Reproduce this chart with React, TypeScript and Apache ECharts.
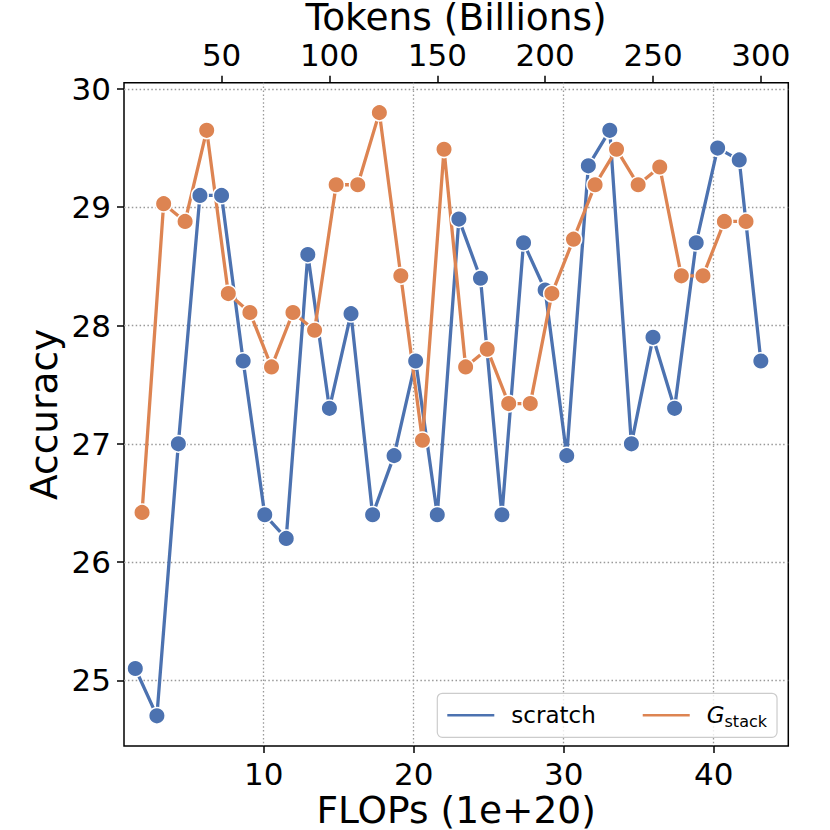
import React, { useEffect, useRef } from "react";
import * as echarts from "echarts";

// FLOPs (1e+20) of each evaluated checkpoint
const scratchFlops = [
  1.44, 2.88, 4.31, 5.75, 7.19, 8.63, 10.07, 11.5, 12.94, 14.38,
  15.82, 17.26, 18.69, 20.13, 21.57, 23.01, 24.45, 25.88, 27.32, 28.76,
  30.2, 31.64, 33.07, 34.51, 35.95, 37.39, 38.83, 40.26, 41.7, 43.14,
];
const scratchAcc = [
  25.1, 24.7, 27.0, 29.1, 29.1, 27.7, 26.4, 26.2, 28.6, 27.3,
  28.1, 26.4, 26.9, 27.7, 26.4, 28.9, 28.4, 26.4, 28.7, 28.3,
  26.9, 29.35, 29.65, 27.0, 27.9, 27.3, 28.7, 29.5, 29.4, 27.7,
];
const gstackFlops = [
  1.89, 3.33, 4.76, 6.2, 7.64, 9.08, 10.52, 11.95, 13.39, 14.83,
  16.27, 17.71, 19.14, 20.58, 22.02, 23.46, 24.9, 26.33, 27.77, 29.21,
  30.65, 32.09, 33.52, 34.96, 36.4, 37.84, 39.28, 40.71, 42.15,
];
const gstackAcc = [
  26.42, 29.03, 28.88, 29.65, 28.27, 28.11, 27.65, 28.11, 27.96, 29.19,
  29.19, 29.8, 28.42, 27.03, 29.49, 27.65, 27.8, 27.34, 27.34, 28.27,
  28.73, 29.19, 29.49, 29.19, 29.34, 28.42, 28.42, 28.88, 28.88,
];
const flopsTicks = [10, 20, 30, 40];
const tokenTicks = [50, 100, 150, 200, 250, 300];
const accTicks = [25, 26, 27, 28, 29, 30];

const FONT = "DejaVu Sans";
const BLUE = "#4C72B0";
const ORANGE = "#DD8452";

export default function App() {
  const ref = useRef<HTMLDivElement>(null);
  useEffect(() => {
    document.body.style.margin = "0";
    const chart = echarts.init(ref.current as HTMLDivElement, null, { renderer: "svg" });
    const gridLine = {
      show: true,
      lineStyle: { color: "#999999", width: 1.3, type: [1.5, 2.4] },
    };
    const tick = { show: true, length: 7, lineStyle: { color: "#000", width: 1.5 } };
    const lbl = { fontSize: 31, color: "#000", fontFamily: FONT };
    const nameStyle = { fontSize: 37.5, lineHeight: 30, color: "#000", fontFamily: FONT };
    chart.setOption({
      animation: false,
      backgroundColor: "#ffffff",
      grid: {
        left: 124,
        top: 82.7,
        right: 41.7,
        bottom: 84,
        show: true,
        borderColor: "#000",
        borderWidth: 1.5,
        backgroundColor: "transparent",
        containLabel: false,
        outerBoundsMode: "none",
      },
      xAxis: [
        {
          type: "value",
          position: "bottom",
          min: 0.687,
          max: 44.97,
          name: "FLOPs (1e+20)",
          nameLocation: "middle",
          nameGap: 49,
          nameMoveOverlap: false,
          nameTextStyle: nameStyle,
          axisLine: { show: false },
          axisTick: { ...tick, customValues: flopsTicks },
          axisLabel: { ...lbl, customValues: flopsTicks, margin: 12 },
          splitLine: gridLine,
        },
        {
          type: "value",
          position: "top",
          min: 4.75,
          max: 312.7,
          name: "Tokens (Billions)",
          nameLocation: "middle",
          nameGap: 50.7,
          nameMoveOverlap: false,
          nameTextStyle: nameStyle,
          axisLine: { show: false },
          axisTick: { ...tick, customValues: tokenTicks },
          axisLabel: { ...lbl, customValues: tokenTicks, margin: 12 },
          splitLine: { show: false },
        },
      ],
      yAxis: {
        type: "value",
        min: 24.445,
        max: 30.053,
        name: "Accuracy",
        nameLocation: "middle",
        nameGap: 61,
        nameMoveOverlap: false,
        nameTextStyle: { fontSize: 37.5, color: "#000", fontFamily: FONT },
        axisLine: { show: false },
        axisTick: { ...tick, customValues: accTicks },
        axisLabel: { ...lbl, customValues: accTicks, margin: 13 },
        splitLine: gridLine,
      },
      legend: {
        left: 437.3,
        top: 693.3,
        orient: "horizontal",
        padding: [8, 10, 8, 8],
        itemGap: 45,
        itemWidth: 49,
        itemHeight: 4.5,
        backgroundColor: "rgba(255,255,255,0.8)",
        borderColor: "#cccccc",
        borderWidth: 1.2,
        borderRadius: 5,
        data: [
          { name: "scratch", icon: "rect" },
          { name: "G_stack", icon: "rect" },
        ],
        formatter: (name: string) => (name === "G_stack" ? "{g|G}{s|stack}" : name),
        textStyle: {
          fontSize: 23,
          fontFamily: FONT,
          color: "#000",
          lineHeight: 26,
          padding: [0, 0, 0, 11],
          rich: {
            g: { fontSize: 23, fontStyle: "italic", fontFamily: FONT, color: "#000", verticalAlign: "middle" },
            s: { fontSize: 16, fontFamily: FONT, color: "#000", lineHeight: 28, verticalAlign: "bottom" },
          },
        },
      },
      series: [
        {
          name: "scratch",
          type: "line",
          xAxisIndex: 0,
          data: scratchFlops.map((x, i) => [x, scratchAcc[i]]),
          symbol: "circle",
          symbolSize: 16.5,
          lineStyle: { color: BLUE, width: 3.3 },
          itemStyle: { color: BLUE, borderColor: "#fff", borderWidth: 1.5 },
          emphasis: { disabled: true },
        },
        {
          name: "G_stack",
          type: "line",
          xAxisIndex: 0,
          data: gstackFlops.map((x, i) => [x, gstackAcc[i]]),
          symbol: "circle",
          symbolSize: 16.5,
          lineStyle: { color: ORANGE, width: 3.3 },
          itemStyle: { color: ORANGE, borderColor: "#fff", borderWidth: 1.5 },
          emphasis: { disabled: true },
        },
      ],
    });
    return () => chart.dispose();
  }, []);
  return (
    <div
      ref={ref}
      style={{ position: "absolute", left: 0, top: 0, width: 830, height: 830 }}
    />
  );
}
